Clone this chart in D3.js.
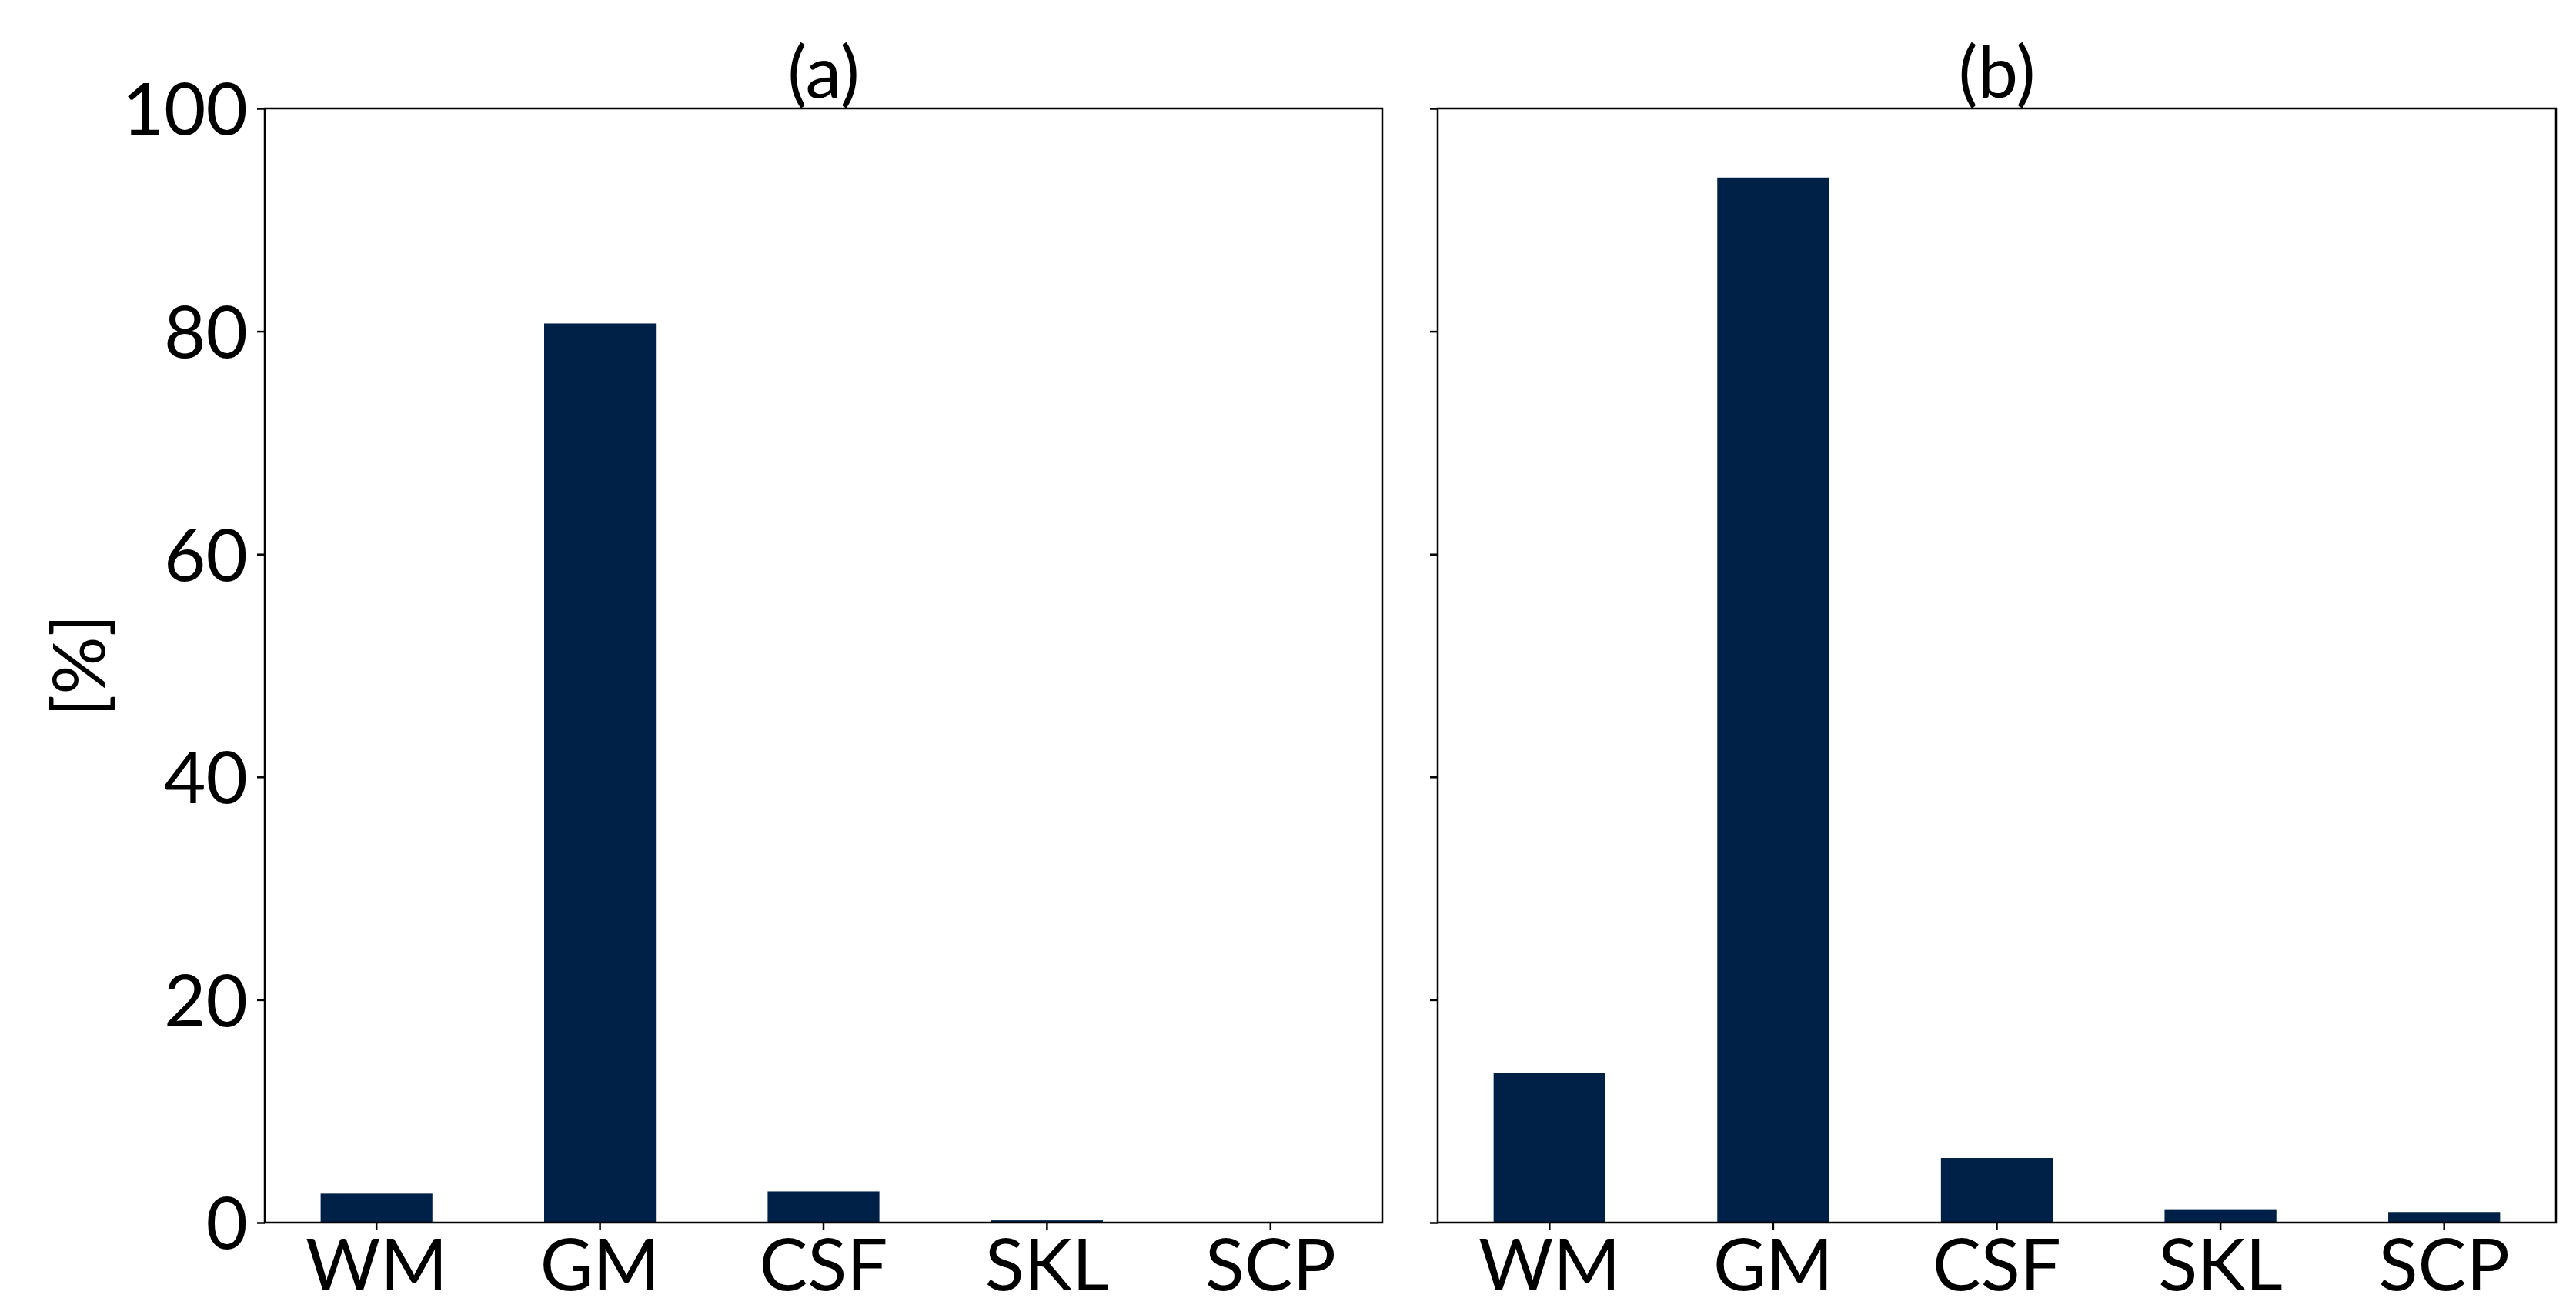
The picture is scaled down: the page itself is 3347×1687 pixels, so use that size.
<!DOCTYPE html>
<html>
<head>
<meta charset="utf-8">
<script src="https://cdn.jsdelivr.net/npm/d3@7"></script>
<style>
  body { margin: 0; background: #fff; }
  svg text { font-family: Lato, 'Open Sans', sans-serif; fill: #000; }
</style>
</head>
<body>
<svg width="3347" height="1687"></svg>
<script>
const categories = ['WM', 'GM', 'CSF', 'SKL', 'SCP']
const valuesA = [2.6, 80.7, 2.8, 0.2, 0]
const valuesB = [13.4, 93.8, 5.8, 1.2, 0.95]
const yTicks = [0, 20, 40, 60, 80, 100]
const titles = ['(a)', '(b)']

const svg = d3.select('svg')
const plotTop = 141
const plotBottom = 1589
const panels = [
  { left: 344, right: 1796, values: valuesA, title: titles[0], labels: true },
  { left: 1868, right: 3321, values: valuesB, title: titles[1], labels: false }
]
const fontSize = 94
const barColor = '#002147'

const yScale = d3.scaleLinear()
  .domain([0, 100])
  .range([plotBottom, plotTop])

panels.forEach(p => {
  const xScale = d3.scaleBand()
    .domain(categories)
    .range([p.left, p.right])
    .paddingInner(0.5)
    .paddingOuter(0.25)

  const g = svg.append('g')

  g.selectAll('rect.bar')
    .data(p.values)
    .enter().append('rect')
    .attr('class', 'bar')
    .attr('x', (d, i) => xScale(categories[i]))
    .attr('width', xScale.bandwidth())
    .attr('y', d => yScale(d))
    .attr('height', d => plotBottom - yScale(d))
    .attr('fill', barColor)

  // x axis
  const xAxis = d3.axisBottom(xScale)
    .tickSize(10)
    .tickPadding(10)
  const xg = g.append('g')
    .attr('transform', `translate(0, ${plotBottom})`)
    .call(xAxis)
  xg.select('.domain').remove()
  xg.selectAll('line').attr('stroke', '#000').attr('stroke-width', 2.5)
  xg.selectAll('text')
    .attr('font-size', fontSize)
    .attr('font-family', 'Lato, sans-serif')
    .attr('dy', '0.72em')

  // y axis
  const yAxis = d3.axisLeft(yScale)
    .tickValues(yTicks)
    .tickSize(10)
    .tickPadding(12)
  const yg = g.append('g')
    .attr('transform', `translate(${p.left}, 0)`)
    .call(yAxis)
  yg.select('.domain').remove()
  yg.selectAll('line').attr('stroke', '#000').attr('stroke-width', 2.5)
  yg.selectAll('text')
    .attr('font-size', fontSize)
    .attr('font-family', 'Lato, sans-serif')
    .attr('dy', '0.36em')
  if (!p.labels) yg.selectAll('text').remove()

  // frame
  g.append('rect')
    .attr('x', p.left)
    .attr('y', plotTop)
    .attr('width', p.right - p.left)
    .attr('height', plotBottom - plotTop)
    .attr('fill', 'none')
    .attr('stroke', '#000')
    .attr('stroke-width', 2.5)

  g.append('text')
    .attr('x', (p.left + p.right) / 2)
    .attr('y', plotTop - 14)
    .attr('text-anchor', 'middle')
    .attr('font-size', fontSize)
    .text(p.title)
})

svg.append('text')
  .attr('transform', `translate(102, ${(plotTop + plotBottom) / 2}) rotate(-90)`)
  .attr('text-anchor', 'middle')
  .attr('dy', '0.36em')
  .attr('font-size', fontSize)
  .text('[%]')
</script>
</body>
</html>
